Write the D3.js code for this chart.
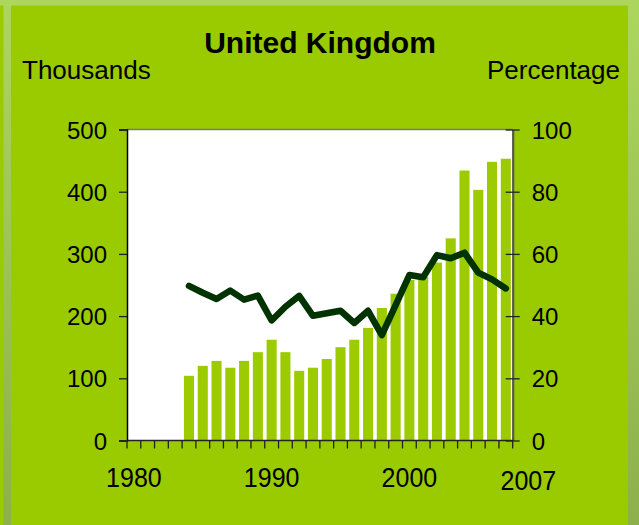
<!DOCTYPE html>
<html>
<head>
<meta charset="utf-8">
<script src="https://cdn.jsdelivr.net/npm/d3@7"></script>
<style>
  html, body { margin: 0; padding: 0; background: #9ACA00; }
  svg { display: block; }
  text { font-family: "Liberation Sans", Arial, Helvetica, sans-serif; fill: #000; }
</style>
</head>
<body>
<svg id="chart" width="639" height="525"></svg>
<script>
// ---- data ----
const years = d3.range(1980, 2008);
const thousands = [null, null, null, null,
  104, 120, 128, 117, 128, 142, 162, 142, 112, 117, 131, 150, 162, 181, 213, 236,
  258, 263, 286, 325, 434, 403, 448, 453];
const percentage = [null, null, null, null,
  49.7, 47.5, 45.5, 48.2, 45.3, 46.6, 38.6, 43.0, 46.5, 40.1, 40.9, 41.7, 37.8, 41.7, 33.9, 43.5,
  53.2, 52.5, 59.6, 58.6, 60.4, 54.0, 51.8, 48.9];
const leftTicks = [0, 100, 200, 300, 400, 500];
const rightTicks = [0, 20, 40, 60, 80, 100];
const xLabels = ["1980", "1990", "2000", "2007"];
const title = "United Kingdom";
const leftTitle = "Thousands";
const rightTitle = "Percentage";

// ---- layout ----
const W = 639, H = 525;
const plot = { left: 127, right: 512.7, top: 129.5, bottom: 440.5 };

const svg = d3.select("#chart");

// background with light/olive border strips
const defs = svg.append("defs");
const grad = defs.append("linearGradient").attr("id", "strip").attr("x1", 0).attr("y1", 0).attr("x2", 0).attr("y2", 1);
grad.append("stop").attr("offset", "0%").attr("stop-color", "#ADD65E");
grad.append("stop").attr("offset", "100%").attr("stop-color", "#8DB04C");

svg.append("rect").attr("x", 0).attr("y", 0).attr("width", W).attr("height", H).attr("fill", "#9ACA00");
svg.append("rect").attr("x", 0).attr("y", 0).attr("width", W).attr("height", 5.5).attr("fill", "#ADD65E");
svg.append("rect").attr("x", 3.5).attr("y", 0).attr("width", 7.5).attr("height", H).attr("fill", "url(#strip)");
svg.append("rect").attr("x", 628).attr("y", 0).attr("width", 11).attr("height", H).attr("fill", "url(#strip)");

// ---- scales ----
const x = d3.scaleBand().domain(years).range([plot.left, plot.right])
  .paddingInner(0.27).paddingOuter(0.135);
const yL = d3.scaleLinear().domain([0, 500]).range([plot.bottom, plot.top]);
const yR = d3.scaleLinear().domain([0, 100]).range([plot.bottom, plot.top]);
const half = (x.step() - x.bandwidth()) / 2;

// plot background
svg.append("rect").attr("x", plot.left).attr("y", plot.top)
  .attr("width", plot.right - plot.left).attr("height", plot.bottom - plot.top)
  .attr("fill", "#ffffff");

// bars
svg.append("g").selectAll("rect")
  .data(years.map((yr, i) => ({ yr, v: thousands[i] })).filter(d => d.v != null))
  .join("rect")
  .attr("x", d => x(d.yr))
  .attr("width", x.bandwidth())
  .attr("y", d => yL(d.v))
  .attr("height", d => yL(0) - yL(d.v))
  .attr("fill", "#9BCB00");

// line
const line = d3.line()
  .defined(d => d.v != null)
  .x(d => x(d.yr) + x.bandwidth() / 2)
  .y(d => yR(d.v));
svg.append("path")
  .datum(years.map((yr, i) => ({ yr, v: percentage[i] })))
  .attr("d", line)
  .attr("fill", "none")
  .attr("stroke", "#003300")
  .attr("stroke-width", 6.5)
  .attr("stroke-linejoin", "round")
  .attr("stroke-linecap", "round");

// frame: top gray border
svg.append("line").attr("x1", plot.left).attr("x2", plot.right).attr("y1", plot.top).attr("y2", plot.top)
  .attr("stroke", "#7a7a7a").attr("stroke-width", 1.5);

// left axis
const gL = svg.append("g").attr("transform", `translate(${plot.left},0)`)
  .call(d3.axisLeft(yL).tickValues(leftTicks).tickSize(8).tickPadding(12).tickFormat(d3.format("d")));
gL.select(".domain").attr("stroke", "#000").attr("stroke-width", 1.5);
gL.selectAll(".tick line").attr("stroke", "#222").attr("stroke-width", 1.3);
gL.selectAll(".tick text").style("font-size", "24px").attr("dy", "0.36em");

// right axis (ticks cross)
const gR = svg.append("g").attr("transform", `translate(${plot.right},0)`)
  .call(d3.axisRight(yR).tickValues(rightTicks).tickSizeInner(7).tickSizeOuter(0).tickPadding(12).tickFormat(d3.format("d")));
gR.select(".domain").attr("stroke", "#555").attr("stroke-width", 2.2);
gR.selectAll(".tick line").attr("x1", -7).attr("stroke", "#222").attr("stroke-width", 1.3);
gR.selectAll(".tick text").style("font-size", "24px").attr("dy", "0.36em");

// x axis with boundary ticks
const boundaries = years.map(yr => x(yr) - half).concat([plot.right]);
const gX = svg.append("g");
gX.append("line").attr("x1", plot.left).attr("x2", plot.right)
  .attr("y1", plot.bottom).attr("y2", plot.bottom)
  .attr("stroke", "#222").attr("stroke-width", 1.5);
gX.selectAll("line.tk").data(boundaries).join("line").attr("class", "tk")
  .attr("x1", d => d).attr("x2", d => d)
  .attr("y1", plot.bottom).attr("y2", plot.bottom + 8)
  .attr("stroke", "#222").attr("stroke-width", 1.3);

gX.selectAll("text").data(xLabels).join("text")
  .attr("text-anchor", "middle")
  .attr("transform", d => {
    const cx = x(+d) + x.bandwidth() / 2 + (d === "2007" ? 22.5 : 0);
    const by = d === "2007" ? 490 : 486.5;
    return `translate(${cx},${by}) scale(1,1.12)`;
  })
  .style("font-size", "25px")
  .text(d => d);

// titles
svg.append("text").attr("x", 320).attr("y", 52.5).attr("text-anchor", "middle")
  .style("font-size", "30px").style("font-weight", "bold").text(title);
svg.append("text").attr("x", 22).attr("y", 78.5).attr("text-anchor", "start")
  .style("font-size", "26px").text(leftTitle);
svg.append("text").attr("x", 620).attr("y", 78.5).attr("text-anchor", "end")
  .style("font-size", "26px").text(rightTitle);
</script>
</body>
</html>
